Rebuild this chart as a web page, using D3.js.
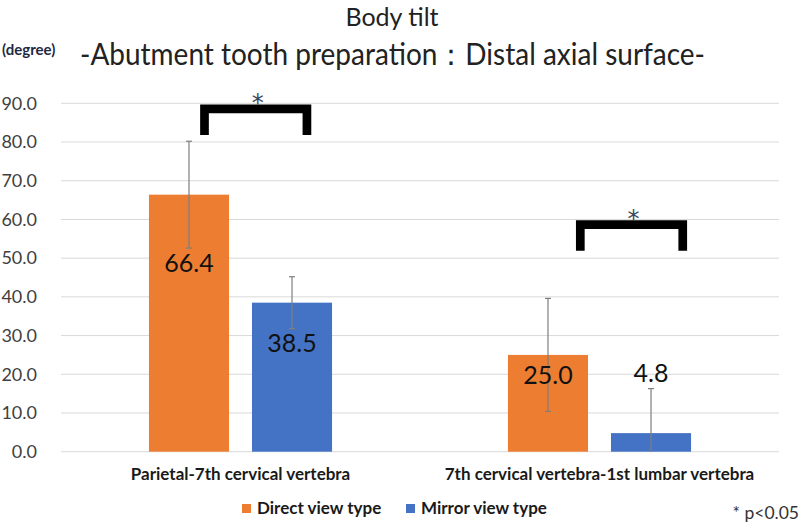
<!DOCTYPE html>
<html><head><meta charset="utf-8">
<script src="https://cdn.jsdelivr.net/npm/d3@7"></script>
<style>body{margin:0;background:#fff}svg{display:block}</style>
</head><body>
<svg id="chart" width="800" height="525"></svg>
<script>
// ---- data ----
const categories = ["Parietal-7th cervical vertebra", "7th cervical vertebra-1st lumbar vertebra"];
const seriesNames = ["Direct view type", "Mirror view type"];
const directValues = [66.4, 25.0];
const mirrorValues = [38.5, 4.8];
const directSD = [13.8, 14.6];
const mirrorSD = [6.7, 11.5];
const labelLevels = [[46.5, 25.8], [17.5, 18.1]]; // data-label baselines (value units)
const bracketLevels = [[89.7, 81.8], [59.8, 51.9]]; // bracket top / leg bottom (value units)
const yTicks = [0, 10, 20, 30, 40, 50, 60, 70, 80, 90];
const colors = ["#ED7D31", "#4472C4"];

const svg = d3.select("#chart");
const font = "Lato, 'Open Sans', sans-serif";

const y = d3.scaleLinear().domain([0, 90]).range([451.7, 103.3]);
const x0 = d3.scaleBand().domain(categories).range([61, 779]).paddingInner(0.49).paddingOuter(0.245);
const x1 = d3.scaleBand().domain(seriesNames).range([0, x0.bandwidth()]).paddingInner(0.223).paddingOuter(0);

// gridlines
svg.append("g").selectAll("line").data(yTicks).join("line")
  .attr("x1", 61).attr("x2", 779)
  .attr("y1", d => y(d)).attr("y2", d => y(d))
  .attr("stroke", "#d9d9d9").attr("stroke-width", 1);

// y axis labels
const yAxis = d3.axisLeft(y).tickValues(yTicks).tickFormat(d3.format(".1f")).tickSize(0).tickPadding(0);
const ya = svg.append("g").attr("transform", "translate(37,0)").call(yAxis);
ya.select(".domain").remove();
ya.selectAll("text").attr("font-family", font).attr("font-size", 18).attr("fill", "#404040");

// bars
const rows = categories.map((c, i) => ({
  cat: c,
  items: [
    {s: seriesNames[0], v: directValues[i], sd: directSD[i], lab: labelLevels[i][0], color: colors[0]},
    {s: seriesNames[1], v: mirrorValues[i], sd: mirrorSD[i], lab: labelLevels[i][1], color: colors[1]}
  ]
}));

const g = svg.append("g").selectAll("g").data(rows).join("g")
  .attr("transform", d => `translate(${x0(d.cat)},0)`);

g.selectAll("rect").data(d => d.items).join("rect")
  .attr("x", d => x1(d.s)).attr("width", x1.bandwidth())
  .attr("y", d => y(d.v)).attr("height", d => y(0) - y(d.v))
  .attr("fill", d => d.color);

// error bars
const eb = g.selectAll("g.err").data(d => d.items).join("g").attr("class", "err")
  .attr("stroke", "#7f7f7f").attr("stroke-width", 1.2);
eb.append("line")
  .attr("x1", d => x1(d.s) + x1.bandwidth() / 2).attr("x2", d => x1(d.s) + x1.bandwidth() / 2)
  .attr("y1", d => y(d.v + d.sd)).attr("y2", d => y(Math.max(0, d.v - d.sd)));
eb.append("line")
  .attr("x1", d => x1(d.s) + x1.bandwidth() / 2 - 3).attr("x2", d => x1(d.s) + x1.bandwidth() / 2 + 3)
  .attr("y1", d => y(d.v + d.sd)).attr("y2", d => y(d.v + d.sd));
eb.filter(d => d.v - d.sd > 0).append("line")
  .attr("x1", d => x1(d.s) + x1.bandwidth() / 2 - 3).attr("x2", d => x1(d.s) + x1.bandwidth() / 2 + 3)
  .attr("y1", d => y(d.v - d.sd)).attr("y2", d => y(d.v - d.sd));

// data labels
g.selectAll("text.val").data(d => d.items).join("text").attr("class", "val")
  .attr("x", d => x1(d.s) + x1.bandwidth() / 2)
  .attr("y", d => y(d.lab))
  .attr("text-anchor", "middle")
  .attr("font-family", font).attr("font-size", 25).attr("fill", "#111")
  .text(d => d3.format(".1f")(d.v));

// significance brackets
const bracketFrac = [[0.64, 0.74], [0.85, 0.95]];
rows.forEach((r, i) => {
  const xa = x0(r.cat) + x1(seriesNames[0]) + x1.bandwidth() * bracketFrac[i][0];
  const xb = x0(r.cat) + x1(seriesNames[1]) + x1.bandwidth() * bracketFrac[i][1];
  const yt = y(bracketLevels[i][0]), yb = y(bracketLevels[i][1]);
  svg.append("path")
    .attr("d", `M${xa + 4.3},${yb} V${yt + 4.5} H${xb - 4.3} V${yb}`)
    .attr("fill", "none").attr("stroke", "#000").attr("stroke-width", 8.7);
  svg.append("text").attr("x", (xa + xb) / 2 + 2).attr("y", yt + 7)
    .attr("text-anchor", "middle").attr("font-family", "'DejaVu Sans', sans-serif").attr("font-size", 24)
    .attr("fill", "#3a4660").text("*");
});

// x labels
svg.append("g").selectAll("text").data(categories).join("text")
  .attr("x", d => x0(d) + x0.bandwidth() / 2).attr("y", 480)
  .attr("text-anchor", "middle").attr("font-family", font).attr("font-weight", "bold")
  .attr("font-size", 17).attr("fill", "#1a1a1a").text(d => d);

// legend
const legX = [242, 406];
const lg = svg.append("g").selectAll("g").data(seriesNames).join("g")
  .attr("transform", (d, i) => `translate(${legX[i]},504)`);
lg.append("rect").attr("width", 9).attr("height", 9).attr("fill", (d, i) => colors[i]);
lg.append("text").attr("x", 15).attr("y", 10).attr("font-family", font).attr("font-weight", "bold")
  .attr("font-size", 17).attr("fill", "#1a1a1a").text(d => d);

svg.append("text").attr("x", 799).attr("y", 519).attr("text-anchor", "end")
  .attr("font-family", font).attr("font-size", 17.5)
  .attr("fill", "#333").text("* p<0.05");

// titles
svg.append("text").attr("x", 392).attr("y", 26).attr("text-anchor", "middle")
  .attr("font-family", font).attr("font-size", 25).attr("fill", "#222").text("Body tilt");
svg.append("text").attr("x", 80).attr("y", 65)
  .attr("font-family", font).attr("font-size", 30).attr("fill", "#222")
  .attr("textLength", 625).attr("lengthAdjust", "spacingAndGlyphs")
  .text("-Abutment tooth preparation：Distal axial surface-");
svg.append("text").attr("x", 2).attr("y", 55)
  .attr("font-family", font).attr("font-weight", "bold").attr("font-size", 15).attr("fill", "#1f2a44")
  .text("(degree)");
</script>
</body></html>
